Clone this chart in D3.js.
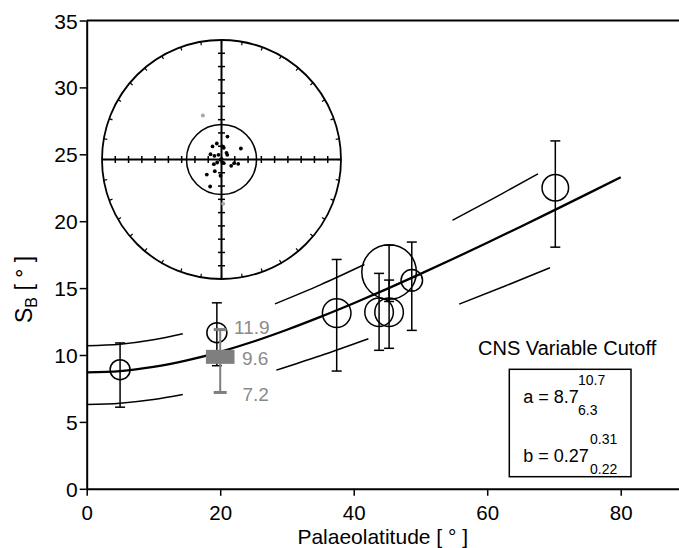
<!DOCTYPE html>
<html><head><meta charset="utf-8">
<script src="https://cdn.jsdelivr.net/npm/d3@7"></script>
<style>body{margin:0;background:#fff} text{font-family:"Liberation Sans",Arial,Helvetica,sans-serif}</style>
</head><body><svg id="c" width="679" height="548"></svg>
<script>
// ---------- data ----------
const xTicks = [0, 20, 40, 60, 80];
const yTicks = [0, 5, 10, 15, 20, 25, 30, 35];

// site-level estimates (palaeolatitude, S_B, lower/upper bounds, number of sites)
const siteLat = [5, 19.5, 37.45, 45.3, 43.8, 45.3, 48.7, 70.2];
const siteSB  = [8.9, 11.67, 13.13, 16.2, 13.2, 13.2, 15.58, 22.5];
const siteLo  = [6.1, 9.2, 8.8, 14.0, 10.35, 10.5, 11.84, 18.06];
const siteHi  = [10.9, 13.9, 17.14, 18.2, 16.1, 15.6, 18.44, 26.0];
const siteN   = [25, 25, 51, 186, 51, 51, 29, 44];

// reference estimate (grey)
const refLat = 20, refSB = 9.6, refLo = 7.2, refHi = 11.9;

// Model G fit curve  (a = 8.7, b = 0.27)
const fitLat = [0, 5, 10, 15, 20, 25, 30, 35, 40, 45, 50, 55, 60, 65, 70, 75, 80];
const fitSB  = [8.70, 8.80, 9.11, 9.60, 10.24, 11.01, 11.89, 12.85, 13.87, 14.94, 16.06, 17.21, 18.39, 19.59, 20.81, 22.04, 23.29];
// confidence bounds, drawn in pieces (null = gap)
const upLat = [0, 5, 10, 14.4, null, 28.2, 35, 41.6, null, 54.8, 61.5, 67.6];
const upSB  = [10.70, 10.81, 11.14, 11.59, null, 13.82, 15.24, 16.76, null, 20.07, 21.86, 23.54];
const loLat = [0, 5, 10, 14.4, null, 28.4, 35, 42.2, null, 55.8, 62.5, 69.4];
const loSB  = [6.30, 6.40, 6.67, 7.05, null, 8.87, 9.95, 11.22, null, 13.80, 15.12, 16.52];

// legend
const legendTitle = "CNS Variable Cutoff";
const paramA = {name: "a", val: "8.7", hi: "10.7", lo: "6.3"};
const paramB = {name: "b", val: "0.27", hi: "0.31", lo: "0.22"};

// stereonet directions (projected, fraction of net radius; east, north)
const netE = [0.050, -0.075, -0.039, 0.008, 0.019, 0.162, -0.092, -0.059, -0.025, 0.042, 0.048, -0.008, 0.008, 0.019, -0.064, -0.036, 0.081, 0.106, 0.140, -0.056, -0.123, -0.008, -0.095, 0.000];
const netN = [0.192, 0.109, 0.134, 0.109, 0.098, 0.092, 0.044, 0.031, 0.039, 0.056, 0.039, -0.003, -0.025, -0.031, -0.039, -0.025, -0.053, -0.031, -0.036, -0.098, -0.126, -0.136, -0.226, 0.006];
const rejE = [-0.156, 0.014];
const rejN = [0.368, -0.371];
const cutoffR = 0.293;

// ---------- drawing ----------
const svg = d3.select("#c");
const x = d3.scaleLinear().domain([0, 88.73]).range([86.7, 679]);
const y = d3.scaleLinear().domain([0, 35]).range([488.8, 20.5]);
const rScale = d3.scaleSqrt().domain([0, 200]).range([0, 28.28]);

// axes
const gx = svg.append("g").attr("transform", `translate(0,${y(0)})`)
  .call(d3.axisBottom(x).tickValues(xTicks).tickSize(7).tickSizeOuter(0).tickPadding(9.5));
const gy = svg.append("g").attr("transform", `translate(${x(0)},0)`)
  .call(d3.axisLeft(y).tickValues(yTicks).tickSize(7).tickSizeOuter(0).tickPadding(2));
[gx, gy].forEach(g => {
  g.selectAll("path.domain").attr("stroke", "#000").attr("stroke-width", 2);
  g.selectAll(".tick line").attr("stroke", "#000").attr("stroke-width", 1.5);
  g.selectAll(".tick text").attr("fill", "#000").style("font-size", "20.5px")
    .style("font-family", '"Liberation Sans",Arial,sans-serif');
});
gy.selectAll(".tick text").attr("dy", "0.36em").style("font-size", "21px");
svg.append("line").attr("x1", x(0)).attr("x2", 679).attr("y1", y(35)).attr("y2", y(35))
  .attr("stroke", "#000").attr("stroke-width", 2);

// axis titles
svg.append("text").attr("x", x(44.35)).attr("y", 543.5).attr("text-anchor", "middle")
  .style("font-size", "21px").text("Palaeolatitude [ ° ]");
const yt = svg.append("text").attr("transform", `translate(32,${y(14.9)}) rotate(-90)`)
  .attr("text-anchor", "middle").style("font-size", "23px");
yt.append("tspan").text("S");
yt.append("tspan").attr("dy", 5).style("font-size", "16px").text("B");
yt.append("tspan").attr("dy", -5).text(" [ ° ]");

// curves
const mk = (xs, ys) => xs.map((v, i) => ({x: v, y: ys[i]}));
const line = d3.line().defined(d => d.x != null).x(d => x(d.x)).y(d => y(d.y)).curve(d3.curveMonotoneX);
svg.append("path").attr("d", line(mk(fitLat, fitSB))).attr("fill", "none").attr("stroke", "#000").attr("stroke-width", 2.3);
svg.append("path").attr("d", line(mk(upLat, upSB))).attr("fill", "none").attr("stroke", "#000").attr("stroke-width", 1.5);
svg.append("path").attr("d", line(mk(loLat, loSB))).attr("fill", "none").attr("stroke", "#000").attr("stroke-width", 1.5);

// sites
const sites = siteLat.map((v, i) => ({lat: v, sb: siteSB[i], lo: siteLo[i], hi: siteHi[i], n: siteN[i]}));
const gs = svg.append("g").attr("stroke", "#000").attr("stroke-width", 1.5).attr("fill", "none");
gs.selectAll("circle").data(sites).join("circle")
  .attr("cx", d => x(d.lat)).attr("cy", d => y(d.sb)).attr("r", d => rScale(d.n));
gs.selectAll("line.v").data(sites).join("line").attr("class", "v")
  .attr("x1", d => x(d.lat)).attr("x2", d => x(d.lat)).attr("y1", d => y(d.lo)).attr("y2", d => y(d.hi));
gs.selectAll("line.t").data(sites).join("line").attr("class", "t")
  .attr("x1", d => x(d.lat) - 5).attr("x2", d => x(d.lat) + 5).attr("y1", d => y(d.hi)).attr("y2", d => y(d.hi));
gs.selectAll("line.b").data(sites).join("line").attr("class", "b")
  .attr("x1", d => x(d.lat) - 5).attr("x2", d => x(d.lat) + 5).attr("y1", d => y(d.lo)).attr("y2", d => y(d.lo));

// reference (grey)
const grey = "#7f7f7f", greyTxt = "#8a8a8a";
svg.append("line").attr("x1", x(refLat)).attr("x2", x(refLat)).attr("y1", y(refLo)).attr("y2", y(refHi))
  .attr("stroke", grey).attr("stroke-width", 2);
[refLo, refHi].forEach(v => svg.append("line").attr("x1", x(refLat) - 6.5).attr("x2", x(refLat) + 6.5)
  .attr("y1", y(v)).attr("y2", y(v)).attr("stroke", grey).attr("stroke-width", 3));
svg.append("rect").attr("x", x(refLat) - 14.3).attr("y", y(refSB) - 10.5).attr("width", 28.6).attr("height", 14)
  .attr("fill", grey);
[[refHi, 234, -2], [refSB, 242, -2], [refLo, 242.5, 2]].forEach(([v, px, off]) =>
  svg.append("text").attr("x", px).attr("y", y(v) + 6.8 + off).attr("fill", greyTxt).style("font-size", "19px")
    .text(v.toFixed(1)));

// legend
svg.append("text").attr("x", 478).attr("y", 355).style("font-size", "20px").text(legendTitle);
svg.append("rect").attr("x", 509.3).attr("y", 369.3).attr("width", 121.7).attr("height", 107.4)
  .attr("fill", "none").attr("stroke", "#000").attr("stroke-width", 1.5);
function param(p, bx, by, supX) {
  svg.append("text").attr("x", bx).attr("y", by).style("font-size", "18px").text(`${p.name} = ${p.val}`);
  svg.append("text").attr("x", supX).attr("y", by - 18).style("font-size", "14px").text(p.hi);
  svg.append("text").attr("x", supX).attr("y", by + 12).style("font-size", "14px").text(p.lo);
}
param(paramA, 523.3, 403, 578);
param(paramB, 523.3, 462, 590);

// stereonet inset
const cx = 221.5, cy = 159.5, R = 119.5;
const ne = d3.scaleLinear().domain([-1, 1]).range([cx - R, cx + R]);
const nn = d3.scaleLinear().domain([-1, 1]).range([cy + R, cy - R]);
const net = svg.append("g").attr("stroke", "#000").attr("fill", "none");
net.append("circle").attr("cx", cx).attr("cy", cy).attr("r", R).attr("stroke-width", 1.8);
net.append("line").attr("x1", cx - R).attr("x2", cx + R).attr("y1", cy).attr("y2", cy).attr("stroke-width", 2);
net.append("line").attr("x1", cx).attr("x2", cx).attr("y1", cy - R).attr("y2", cy + R).attr("stroke-width", 2);
const tk = d3.range(-8, 9).filter(i => i !== 0).map(i => i / 9);
tk.forEach(t => {
  net.append("line").attr("x1", ne(t)).attr("x2", ne(t)).attr("y1", cy - 3.5).attr("y2", cy + 3.5).attr("stroke-width", 1.5);
  net.append("line").attr("y1", nn(t)).attr("y2", nn(t)).attr("x1", cx - 3.5).attr("x2", cx + 3.5).attr("stroke-width", 1.5);
});
d3.range(0, 360, 10).forEach(a => {
  const r = a * Math.PI / 180;
  net.append("line").attr("x1", cx + R * Math.sin(r)).attr("y1", cy - R * Math.cos(r))
    .attr("x2", cx + (R - 3.5) * Math.sin(r)).attr("y2", cy - (R - 3.5) * Math.cos(r)).attr("stroke-width", 1.2);
});
net.append("circle").attr("cx", cx).attr("cy", cy).attr("r", cutoffR * R).attr("stroke-width", 1.5);
svg.append("g").selectAll("circle").data(netE.map((e, i) => [e, netN[i]])).join("circle")
  .attr("cx", d => ne(d[0])).attr("cy", d => nn(d[1])).attr("r", 1.9).attr("fill", "#000");
svg.append("g").selectAll("circle").data(rejE.map((e, i) => [e, rejN[i]])).join("circle")
  .attr("cx", d => ne(d[0])).attr("cy", d => nn(d[1])).attr("r", 2).attr("fill", "#a8a8a8");
</script></body></html>
